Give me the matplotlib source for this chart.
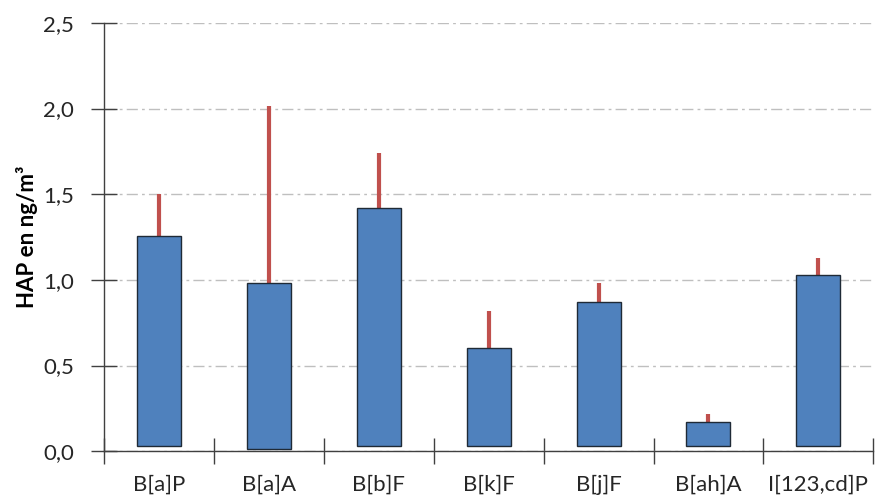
import matplotlib
matplotlib.use('Agg')
from matplotlib import pyplot as plt
from matplotlib.ticker import FuncFormatter, FixedLocator
import numpy as np

categories = ['B[a]P', 'B[a]A', 'B[b]F', 'B[k]F', 'B[j]F', 'B[ah]A', 'I[123,cd]P']
bar_bottom = [0.03, 0.01, 0.03, 0.03, 0.03, 0.03, 0.03]
bar_top = [1.255, 0.98, 1.42, 0.60, 0.87, 0.17, 1.03]
err_top = [1.50, 2.015, 1.74, 0.82, 0.98, 0.218, 1.13]

plt.rcParams['font.family'] = ['Lato', 'DejaVu Sans']

fig = plt.figure(figsize=(8.75, 4.98), dpi=100)
ax = fig.add_axes([0.119, 0.094, 0.879, 0.860])

x = np.arange(len(categories))
heights = np.array(bar_top) - np.array(bar_bottom)
up = np.array(err_top) - np.array(bar_top)

# error bars first (only upper part), then bars on top
ax.errorbar(x, bar_top, yerr=[np.zeros(len(x)), up], fmt='none',
            ecolor='#C0504D', elinewidth=3, capsize=0, zorder=2)
ax.bar(x, heights, bottom=bar_bottom, width=0.4, color='#4F81BD',
       edgecolor='#1F2A36', linewidth=1.0, zorder=3)

ax.set_xlim(-0.5, len(categories) - 0.5)
ax.set_ylim(0, 2.5)
ax.yaxis.set_major_locator(FixedLocator([0, 0.5, 1.0, 1.5, 2.0, 2.5]))
ax.yaxis.set_major_formatter(FuncFormatter(lambda v, p: f'{v:.1f}'.replace('.', ',')))

ax.set_xticks(x)
ax.set_xticklabels(categories, fontsize=16, color='#262626')
ax.set_xticks(np.arange(-0.5, len(categories)), minor=True)
ax.tick_params(axis='x', which='major', length=0, pad=17)
ax.tick_params(axis='x', which='minor', direction='inout', length=19, width=1, color='#404040')
ax.tick_params(axis='y', direction='inout', length=19, width=1, color='#404040',
               labelsize=16, labelcolor='#262626', pad=12)

for s in ['top', 'right']:
    ax.spines[s].set_visible(False)
for s in ['left', 'bottom']:
    ax.spines[s].set_color('#404040')
    ax.spines[s].set_linewidth(1)

ax.yaxis.grid(True, linestyle=(0, (8, 3, 2, 3)), color='#BFBFBF', linewidth=1, zorder=0)
ax.set_axisbelow(True)

ax.set_ylabel('HAP en ng/m³', fontsize=16, fontweight='bold', labelpad=4)

fig.savefig('out.png', dpi=100)
